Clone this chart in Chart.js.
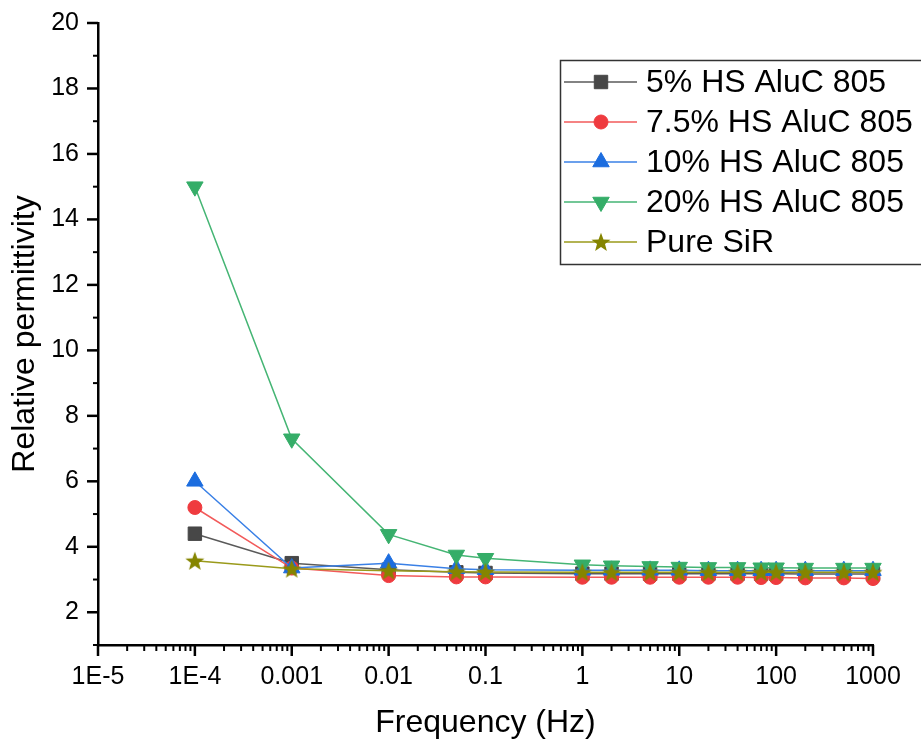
<!DOCTYPE html>
<html>
<head>
<meta charset="utf-8">
<title>Relative permittivity vs frequency</title>
<script src="https://cdn.jsdelivr.net/npm/chart.js@4.4.1/dist/chart.umd.min.js"></script>
<style>
  html, body { margin: 0; padding: 0; background: #fff; }
  #wrap { width: 921px; height: 746px; position: relative; }
</style>
</head>
<body>
<div id="wrap"><canvas id="chart"></canvas></div>
<script>
'use strict';

// ── DATA ─────────────────────────────────────────────────────

const FREQ = [1e-4, 0.001, 0.01, 0.05, 0.1, 1, 2, 5, 10, 20, 40, 70, 100, 200, 500, 1000];

const HS_5    = [4.40, 3.50, 3.30, 3.22, 3.20, 3.18, 3.18, 3.18, 3.18, 3.18, 3.18, 3.18, 3.18, 3.17, 3.17, 3.17];
const HS_7_5  = [5.20, 3.35, 3.12, 3.08, 3.08, 3.07, 3.07, 3.07, 3.07, 3.07, 3.07, 3.06, 3.06, 3.05, 3.05, 3.03];
const HS_10   = [6.00, 3.35, 3.50, 3.33, 3.30, 3.28, 3.28, 3.28, 3.28, 3.27, 3.27, 3.27, 3.27, 3.27, 3.27, 3.27];
const HS_20   = [15.0, 7.30, 4.38, 3.75, 3.65, 3.45, 3.42, 3.40, 3.38, 3.37, 3.37, 3.36, 3.36, 3.35, 3.35, 3.35];
const PURE    = [3.57, 3.33, 3.27, 3.24, 3.23, 3.22, 3.22, 3.22, 3.22, 3.22, 3.22, 3.22, 3.22, 3.22, 3.22, 3.22];

const SERIES_NAMES = ['5% HS AluC 805', '7.5% HS AluC 805', '10% HS AluC 805', '20% HS AluC 805', 'Pure SiR'];

const X_TICKS       = [1e-5, 1e-4, 0.001, 0.01, 0.1, 1, 10, 100, 1000];
const X_TICK_LABELS = ['1E-5', '1E-4', '0.001', '0.01', '0.1', '1', '10', '100', '1000'];
const Y_TICKS       = [2, 4, 6, 8, 10, 12, 14, 16, 18, 20];

// ── STYLE ────────────────────────────────────────────────────

const FONT = '"Liberation Sans", Arial, sans-serif';

function makeStar(size, color) {
  const c = document.createElement('canvas');
  c.width = size; c.height = size;
  const g = c.getContext('2d');
  const cx = size / 2, cy = size / 2 + 0.8, ro = size / 2, ri = ro * 0.42;
  g.beginPath();
  for (let i = 0; i < 10; i++) {
    const r = i % 2 === 0 ? ro : ri;
    const a = -Math.PI / 2 + i * Math.PI / 5;
    g.lineTo(cx + r * Math.cos(a), cy + r * Math.sin(a));
  }
  g.closePath();
  g.fillStyle = color;
  g.fill();
  return c;
}

const pts = ys => FREQ.map((f, i) => ({ x: f, y: ys[i] }));

function series(label, ys, line, marker, style, radius, rotation, order) {
  return {
    label,
    data: pts(ys),
    borderColor: line,
    borderWidth: 1.5,
    pointStyle: style,
    pointRadius: radius,
    pointRotation: rotation,
    pointBackgroundColor: marker,
    pointBorderColor: marker,
    pointBorderWidth: 1,
    tension: 0,
    clip: false,
    order,
  };
}

const datasets = [
  series(SERIES_NAMES[0], HS_5,   '#5a5a5a', '#474747', 'rect',     9.5, 0,   5),
  series(SERIES_NAMES[1], HS_7_5, '#f25a5a', '#ef3b3f', 'circle',   7,   0,   4),
  series(SERIES_NAMES[2], HS_10,  '#3a80e6', '#1c6ddf', 'triangle', 9.5, 0,   3),
  series(SERIES_NAMES[3], HS_20,  '#45b574', '#35ad68', 'triangle', 9.5, 180, 2),
  series(SERIES_NAMES[4], PURE,   '#9a9a1a', '#858500', makeStar(20, '#858500'), 10, 0, 1),
];

// ── PLUGINS ──────────────────────────────────────────────────

// tick marks outside the axes, major and minor
const axisTicks = {
  id: 'axisTicks',
  afterDraw(chart) {
    const { ctx, scales: { x, y } } = chart;
    const y0 = x.top, x0 = y.right;
    ctx.save();
    ctx.strokeStyle = '#000';
    const tick = (x1, y1, x2, y2, w) => {
      ctx.lineWidth = w;
      ctx.beginPath(); ctx.moveTo(x1, y1); ctx.lineTo(x2, y2); ctx.stroke();
    };
    X_TICKS.forEach((d, i) => {
      const px = x.getPixelForValue(d);
      tick(px, y0, px, y0 + 11, 2.5);
      if (i < X_TICKS.length - 1) {
        for (let m = 2; m <= 9; m++) {
          const mx = x.getPixelForValue(d * m);
          tick(mx, y0, mx, y0 + 6, 2);
        }
      }
    });
    Y_TICKS.forEach(v => {
      const py = y.getPixelForValue(v);
      tick(x0, py, x0 - 11, py, 2.5);
      const my = y.getPixelForValue(v - 1);
      tick(x0, my, x0 - 5, my, 2);
    });
    ctx.restore();
  },
};

// boxed legend in the upper right
const legendBox = {
  id: 'legendBox',
  afterDraw(chart) {
    const { ctx } = chart;
    ctx.save();
    ctx.strokeStyle = '#333';
    ctx.lineWidth = 1.5;
    ctx.strokeRect(560.5, 60.5, 364, 204);
    chart.data.datasets.forEach((ds, i) => {
      const yy = 82 + i * 40;
      ctx.strokeStyle = ds.borderColor;
      ctx.lineWidth = ds.borderWidth;
      ctx.beginPath(); ctx.moveTo(564, yy); ctx.lineTo(637, yy); ctx.stroke();
      ctx.fillStyle = ds.pointBackgroundColor;
      ctx.strokeStyle = ds.pointBorderColor;
      ctx.lineWidth = 1;
      Chart.helpers.drawPoint(ctx, {
        pointStyle: ds.pointStyle,
        radius: ds.pointRadius,
        rotation: ds.pointRotation,
        borderWidth: 1,
      }, 601, yy);
      ctx.fillStyle = '#000';
      ctx.font = '32px ' + FONT;
      ctx.textAlign = 'left';
      ctx.textBaseline = 'middle';
      ctx.fillText(ds.label, 646, yy + 1);
    });
    ctx.restore();
  },
};

// ── CHART ────────────────────────────────────────────────────

new Chart(document.getElementById('chart'), {
  type: 'line',
  data: { datasets },
  plugins: [axisTicks, legendBox],
  options: {
    responsive: true,
    maintainAspectRatio: false,
    animation: false,
    layout: { padding: { top: 18, right: 48, left: 0, bottom: 0 } },
    plugins: { legend: { display: false }, tooltip: { enabled: false } },
    scales: {
      x: {
        type: 'logarithmic',
        min: 1e-5,
        max: 1000,
        afterBuildTicks: s => { s.ticks = X_TICKS.map(v => ({ value: v })); },
        afterFit: s => { s.height = 101; },
        grid: { display: false, drawTicks: true, tickLength: 11 },
        border: { display: true, color: '#000', width: 2.5 },
        ticks: {
          autoSkip: false,
          maxRotation: 0,
          padding: 6,
          color: '#000',
          font: { family: FONT, size: 25 },
          callback: (v, i) => X_TICK_LABELS[i],
        },
        title: {
          display: true,
          text: 'Frequency (Hz)',
          color: '#000',
          font: { family: FONT, size: 32 },
          padding: { top: 0, bottom: 4 },
        },
      },
      y: {
        type: 'linear',
        min: 1,
        max: 20,
        afterBuildTicks: s => { s.ticks = Y_TICKS.map(v => ({ value: v })); },
        afterFit: s => { s.width = 98; },
        grid: { display: false, drawTicks: true, tickLength: 11 },
        border: { display: true, color: '#000', width: 2.5 },
        ticks: {
          padding: 8,
          color: '#000',
          font: { family: FONT, size: 25 },
          callback: v => String(v),
        },
        title: {
          display: true,
          text: 'Relative permittivity',
          color: '#000',
          font: { family: FONT, size: 32 },
          padding: { top: 6, bottom: 0 },
        },
      },
    },
  },
});
</script>
</body>
</html>
